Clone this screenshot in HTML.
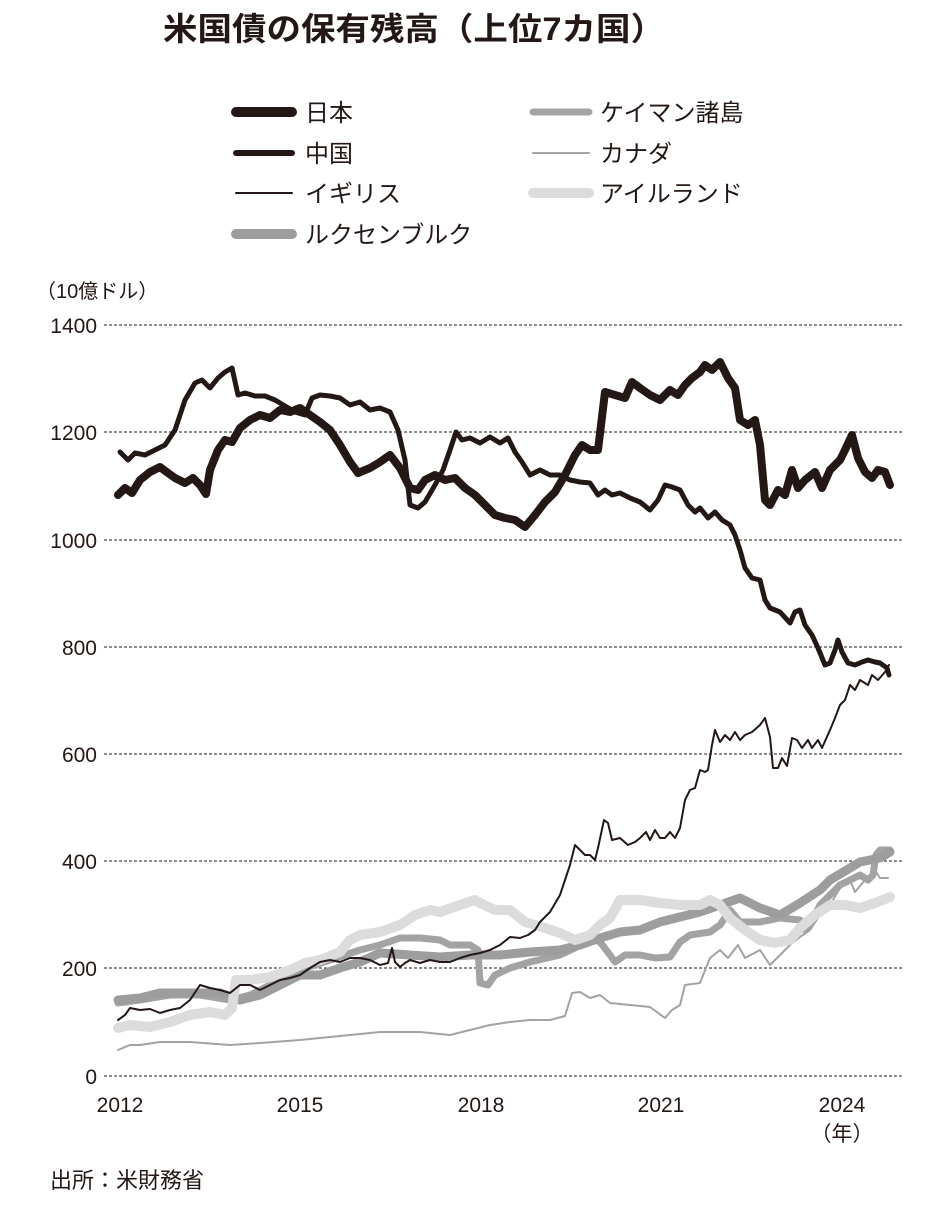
<!DOCTYPE html>
<html><head><meta charset="utf-8"><style>
body{margin:0;background:#fff;}
svg text{font-family:"Liberation Sans","Noto Sans CJK JP",sans-serif;fill:#231815;}
</style></head><body>
<svg width="939" height="1204" viewBox="0 0 939 1204" xmlns="http://www.w3.org/2000/svg">
<text x="163" y="40" font-size="32" font-weight="bold" textLength="502" lengthAdjust="spacingAndGlyphs">米国債の保有残高（上位7カ国）</text>
<g stroke-linecap="round" fill="none">
<line x1="236" y1="112" x2="292" y2="112" stroke="#231815" stroke-width="10"/>
<line x1="236" y1="153" x2="292" y2="153" stroke="#231815" stroke-width="6"/>
<line x1="236" y1="193" x2="292" y2="193" stroke="#231815" stroke-width="2"/>
<line x1="236" y1="234" x2="292" y2="234" stroke="#9d9d9d" stroke-width="10"/>
<line x1="533" y1="112" x2="589" y2="112" stroke="#a3a3a3" stroke-width="7"/>
<line x1="533" y1="153" x2="589" y2="153" stroke="#a3a3a3" stroke-width="2"/>
<line x1="533" y1="193" x2="589" y2="193" stroke="#dcdcdc" stroke-width="10"/>
</g>
<g font-size="24">
<text x="305" y="121">日本</text><text x="305" y="162">中国</text><text x="305" y="202">イギリス</text><text x="305" y="243">ルクセンブルク</text>
<text x="600" y="121">ケイマン諸島</text><text x="600" y="162">カナダ</text><text x="600" y="202">アイルランド</text>
</g>
<text x="36" y="298" font-size="20">（10億ドル）</text>
<g stroke="#231815" stroke-width="1" stroke-dasharray="3,2">
<line x1="104" y1="325" x2="902" y2="325"/><line x1="104" y1="432" x2="902" y2="432"/><line x1="104" y1="540" x2="902" y2="540"/><line x1="104" y1="647" x2="902" y2="647"/><line x1="104" y1="754" x2="902" y2="754"/><line x1="104" y1="861" x2="902" y2="861"/><line x1="104" y1="968" x2="902" y2="968"/><line x1="104" y1="1076" x2="902" y2="1076"/>
</g>
<g font-size="21" text-anchor="end">
<text x="97" y="333">1400</text><text x="97" y="440">1200</text><text x="97" y="548">1000</text><text x="97" y="655">800</text><text x="97" y="762">600</text><text x="97" y="869">400</text><text x="97" y="976">200</text><text x="97" y="1084">0</text>
</g>
<g font-size="21" text-anchor="middle">
<text x="120" y="1112">2012</text><text x="300" y="1112">2015</text><text x="481" y="1112">2018</text><text x="661" y="1112">2021</text><text x="842" y="1112">2024</text><text x="842" y="1141">（年）</text>
</g>
<text x="50" y="1188" font-size="22">出所：米財務省</text>
<g fill="none" stroke-linejoin="round" stroke-linecap="round">
<polyline stroke="#a3a3a3" stroke-width="2" points="118,1050 130,1045 140,1045 160,1042 190,1042 230,1045 260,1043 300,1040 340,1036 380,1032 420,1032 450,1035 470,1030 490,1025 510,1022 530,1020 550,1020 565,1016 572,993 580,992 590,998 600,995 610,1003 630,1005 650,1007 665,1018 672,1010 680,1005 685,985 700,983 710,958 720,950 728,958 738,945 745,958 760,950 770,965 780,955 790,945 800,937 810,930 820,915 830,905 840,888 850,880 855,892 865,880 875,870 880,878 888,878"/>
<polyline stroke="#a3a3a3" stroke-width="7" points="118,1003 140,1000 170,995 200,995 230,1000 250,995 270,985 300,970 330,960 360,950 380,945 400,938 420,938 440,940 450,945 470,945 478,950 480,983 488,985 495,975 510,968 530,962 560,955 575,948 590,938 600,942 610,955 615,962 625,955 640,955 655,958 670,957 680,942 690,935 710,932 720,925 730,910 740,922 760,922 780,918 800,920 805,930 810,925 820,905 830,895 840,885 850,880 860,875 868,880 873,875 876,855 880,850 890,850"/>
<polyline stroke="#9d9d9d" stroke-width="9" points="118,1000 140,998 160,993 190,993 220,993 240,1000 260,995 280,985 300,975 320,975 340,968 360,962 380,953 410,955 440,957 470,955 500,955 530,952 560,950 580,945 600,938 620,932 640,930 660,922 680,917 700,912 720,905 740,898 760,908 780,915 800,903 820,890 830,880 850,868 860,862 880,858 890,852"/>
<polyline stroke="#dcdcdc" stroke-width="10" points="118,1028 130,1025 150,1027 170,1022 190,1015 210,1012 225,1015 232,1008 236,980 250,980 270,977 290,970 305,963 320,960 340,952 350,940 360,935 380,932 400,925 415,915 430,910 440,912 460,905 475,900 480,903 495,910 510,910 525,922 545,928 560,933 575,940 590,935 600,925 610,918 620,900 640,900 660,903 680,905 700,905 710,900 720,905 730,918 745,930 760,940 775,943 790,940 800,928 815,915 830,905 845,905 860,908 875,903 890,897"/>
<polyline stroke="#231815" stroke-width="2" points="118,1020 125,1015 130,1008 140,1010 150,1009 160,1013 170,1010 180,1008 190,1000 200,985 210,988 220,990 230,993 240,985 250,985 260,990 270,985 280,980 290,978 300,975 310,968 320,962 330,960 340,962 350,958 360,958 370,960 380,965 388,963 392,948 395,962 400,967 405,963 410,960 420,963 430,960 440,962 450,962 460,958 470,955 480,953 490,950 500,945 510,937 520,938 528,935 535,930 540,922 550,912 560,895 565,880 570,865 575,845 580,850 585,855 590,855 595,860 598,848 604,820 608,823 612,840 620,838 628,845 635,842 640,838 646,832 650,840 655,830 660,838 665,838 670,832 675,838 680,828 685,800 690,790 695,788 700,770 705,772 708,770 712,745 715,730 720,742 725,735 730,740 735,732 740,740 745,735 752,732 760,725 765,718 770,737 773,768 778,768 782,758 787,766 792,738 797,740 802,748 808,740 812,748 818,740 822,748 830,730 835,718 840,705 845,700 850,685 855,690 860,680 868,685 872,675 878,680 885,672 889,665"/>
<polyline stroke="#231815" stroke-width="5" points="120,452 128,460 135,453 145,455 155,450 165,445 175,430 185,400 195,383 202,380 210,388 218,378 225,372 232,368 238,395 245,393 255,396 265,396 275,400 285,406 295,412 305,415 312,398 320,395 330,396 340,398 350,405 360,402 370,410 380,408 390,412 398,430 405,460 410,505 418,508 425,502 435,485 443,470 450,450 456,432 462,440 470,438 480,443 490,437 500,443 508,438 515,452 522,462 530,475 540,470 550,475 560,475 570,480 580,482 590,483 598,495 605,490 612,495 620,493 630,498 640,502 650,510 658,500 665,485 672,487 680,490 688,505 695,512 700,508 708,518 715,512 722,520 730,525 735,535 740,550 745,568 752,578 760,580 765,600 770,608 780,612 790,623 795,612 800,610 805,625 812,635 818,648 825,665 830,663 835,650 838,640 842,652 848,663 855,665 862,662 868,660 875,662 880,663 887,668 889,675"/>
<polyline stroke="#231815" stroke-width="8" points="118,495 125,488 132,493 140,480 150,472 160,467 168,473 175,478 185,483 193,478 200,485 206,494 210,470 218,450 225,440 232,442 240,428 250,420 260,415 270,418 280,410 290,412 300,408 310,415 320,422 330,430 340,445 350,462 358,473 370,468 380,462 390,455 400,468 410,488 418,490 425,480 435,475 445,480 455,478 465,488 475,495 485,505 495,515 505,518 515,520 525,527 535,515 545,502 555,492 565,475 575,455 582,445 590,450 598,450 605,392 615,395 625,398 632,382 640,388 650,395 660,400 670,390 678,395 685,385 692,378 700,372 705,365 712,370 720,362 728,378 735,388 740,420 748,425 755,420 760,445 765,500 770,505 778,490 785,495 792,470 798,488 805,480 815,472 822,488 830,470 840,460 845,450 852,435 858,458 865,472 872,478 878,470 885,472 890,485"/>
</g>
</svg>
</body></html>
